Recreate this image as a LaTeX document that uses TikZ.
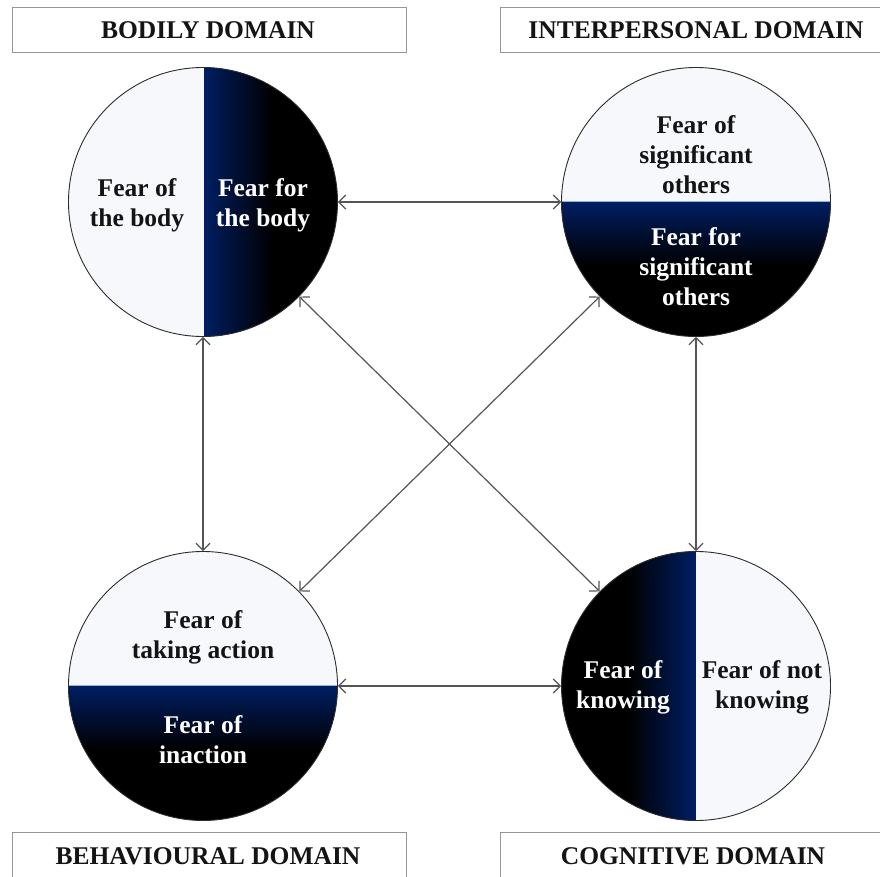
\documentclass[tikz,border=0pt]{standalone}
\usepackage{fontspec}
\setmainfont{Liberation Serif}
\usetikzlibrary{arrows.meta}
\definecolor{navy}{RGB}{0,30,98}
\definecolor{paper}{RGB}{246,248,252}
\definecolor{rim}{RGB}{45,45,45}
\definecolor{linkgray}{RGB}{85,85,85}
\definecolor{boxgray}{RGB}{150,150,150}
\definecolor{ink}{RGB}{20,20,20}
\definecolor{splitblue}{RGB}{150,175,220}
\begin{document}
\begin{tikzpicture}[x=1pt,y=-1pt,
  titletext/.style={inner sep=0pt, font=\fontsize{25.5}{30}\selectfont\bfseries, text=ink},
  boxline/.style={draw=boxgray, line width=0.8pt},
  ring/.style={circle, draw=rim, line width=0.9pt, minimum size=269pt, inner sep=0pt},
  darktext/.style={align=center, text=ink, inner sep=0pt,
    font=\fontsize{25.5}{30}\selectfont\bfseries},
  lighttext/.style={align=center, text=white, inner sep=0pt,
    font=\fontsize{25.5}{30}\selectfont\bfseries},
  split/.style={draw=splitblue, line width=0.6pt},
  link/.style={{Straight Barb[length=7pt,width=14pt]}-{Straight Barb[length=7pt,width=14pt]},
    draw=linkgray, line width=1.2pt}]
\useasboundingbox (0,0) rectangle (880,877);
\fill[white] (0,0) rectangle (880,877);

% title boxes
\draw[boxline] (12,7) rectangle (406,52);
\draw[boxline] (500,7) rectangle (884,52);
\draw[boxline] (12,832) rectangle (406,884);
\draw[boxline] (500,832) rectangle (884,884);
\node[titletext] (t1) at (208,30) {BODILY DOMAIN};
\node[titletext] (t2) at (696,30) {INTERPERSONAL DOMAIN};
\node[titletext] (t3) at (208,856) {BEHAVIOURAL DOMAIN};
\node[titletext] (t4) at (693,856) {COGNITIVE DOMAIN};

% top-left circle: vertical split, dark right
\begin{scope}
  \clip (203,202) circle (134.5pt);
  \fill[paper] (60,60) rectangle (204,345);
  \fill[black] (204,60) rectangle (345,345);
  \shade[left color=navy, right color=black] (204,60) rectangle (272,345);
\end{scope}
\draw[navy, line width=0.8pt] (204,67.5) -- (204,336.5);

% top-right circle: horizontal split, dark bottom
\begin{scope}
  \clip (696,202) circle (134.5pt);
  \fill[paper] (555,60) rectangle (840,202);
  \fill[black] (555,202) rectangle (840,345);
  \shade[top color=navy, bottom color=black] (555,202) rectangle (840,265);
\end{scope}
\draw[split] (561.5,201.7) -- (830.5,201.7);

% bottom-left circle: horizontal split, dark bottom
\begin{scope}
  \clip (203,686) circle (134.5pt);
  \fill[paper] (60,545) rectangle (345,686);
  \fill[black] (60,686) rectangle (345,830);
  \shade[top color=navy, bottom color=black] (60,686) rectangle (345,750);
\end{scope}
\draw[split] (68.5,685.7) -- (337.5,685.7);

% bottom-right circle: vertical split, dark left
\begin{scope}
  \clip (696,686) circle (134.5pt);
  \fill[paper] (695,545) rectangle (840,830);
  \fill[black] (555,545) rectangle (695,830);
  \shade[left color=black, right color=navy] (628,545) rectangle (695,830);
\end{scope}
\draw[navy, line width=0.8pt] (695,551.5) -- (695,820.5);

% outlines (named nodes)
\node[ring] (TL) at (203,202) {};
\node[ring] (TR) at (696,202) {};
\node[ring] (BL) at (203,686) {};
\node[ring] (BR) at (696,686) {};

% texts
\node[darktext] (tla) at (137,205) {Fear of\\the body};
\node[lighttext] (tlb) at (263,205) {Fear for\\the body};
\node[darktext] (tra) at (696,155) {Fear of\\significant\\others};
\node[lighttext] (trb) at (696,267) {Fear for\\significant\\others};
\node[darktext] (bla) at (203,637) {Fear of\\taking action};
\node[lighttext] (blb) at (203,740) {Fear of\\inaction};
\node[lighttext] (bra) at (623,687) {Fear of\\knowing};
\node[darktext] (brb) at (762,687) {Fear of not\\knowing};

% connectors
\draw[link] (TL) -- (TR);
\draw[link] (BL) -- (BR);
\draw[link] (TL) -- (BL);
\draw[link] (TR) -- (BR);
\draw[link] (TL) -- (BR);
\draw[link] (TR) -- (BL);
\end{tikzpicture}
\end{document}
